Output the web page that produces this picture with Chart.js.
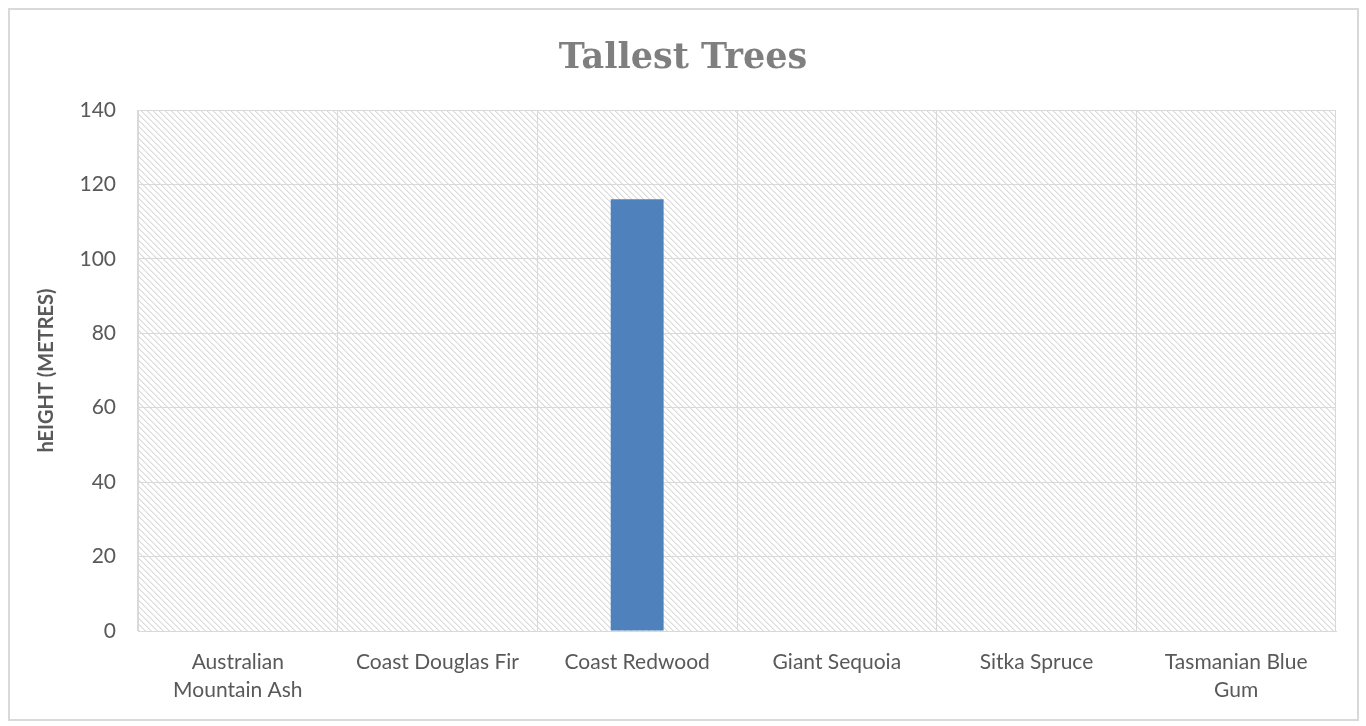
<!DOCTYPE html>
<html lang="en">

<head>
  <meta charset="UTF-8" />
  <title>Tallest Trees</title>
  <style>
    * {
      margin: 0;
      padding: 0;
    }

    body {
      width: 1366px;
      height: 726px;
      background: #ffffff;
      overflow: hidden;
    }

    .chartBox {
      position: absolute;
      left: 0;
      top: 0;
      width: 1366px;
      height: 726px;
    }

    .frame {
      position: absolute;
      left: 8px;
      top: 8px;
      width: 1347px;
      height: 709px;
      border: 2px solid #d9d9d9;
      pointer-events: none;
    }
  </style>
</head>

<body>
  <div class="chartBox">
    <canvas id="myChart"></canvas>
  </div>
  <div class="frame"></div>
  <script src="https://cdn.jsdelivr.net/npm/chart.js@4.4.1/dist/chart.umd.min.js"></script>
  <script>
    const categories = [
      ["Australian", "Mountain Ash"],
      "Coast Douglas Fir",
      "Coast Redwood",
      "Giant Sequoia",
      "Sitka Spruce",
      ["Tasmanian Blue", "Gum"],
    ];

    const heights = [null, null, 116, null, null, null];

    const yTicks = [0, 20, 40, 60, 80, 100, 120, 140];

    // light downward diagonal fill, like the Excel plot area
    function makeHatch() {
      const n = 6;
      const tile = document.createElement("canvas");
      tile.width = n;
      tile.height = n;
      const t = tile.getContext("2d");
      t.fillStyle = "#ffffff";
      t.fillRect(0, 0, n, n);
      for (let i = 0; i < n; i++) {
        t.fillStyle = "#dcdcdc";
        t.fillRect(i, i, 1, 1);
        t.fillStyle = "#ebebeb";
        t.fillRect((i + 1) % n, i, 1, 1);
      }
      return tile;
    }

    const hatchPlugin = {
      id: "hatch",
      beforeDraw(chart) {
        const { ctx, chartArea } = chart;
        ctx.save();
        ctx.fillStyle = ctx.createPattern(makeHatch(), "repeat");
        ctx.fillRect(chartArea.left, chartArea.top,
          chartArea.right - chartArea.left, chartArea.bottom - chartArea.top);
        ctx.restore();
      },
    };

    const data = {
      labels: categories,
      datasets: [
        {
          label: "Height",
          data: heights,
          backgroundColor: "#4f81bd",
          borderWidth: 0,
          barPercentage: 0.265,
          categoryPercentage: 1,
        },
      ],
    };

    const options = {
      responsive: false,
      animation: false,
      layout: {
        padding: { left: 30, right: 30, top: 0, bottom: 0 },
      },
      scales: {
        x: {
          grid: {
            color: "#d9d9d9",
            drawTicks: false,
            offset: true,
          },
          border: { color: "#d9d9d9" },
          ticks: {
            color: "#595959",
            padding: 17,
            maxRotation: 0,
            autoSkip: false,
            font: { family: "Lato", size: 21, lineHeight: 1.33 },
          },
          afterFit(scale) {
            scale.height = 95;
          },
        },
        y: {
          min: 0,
          max: 140,
          afterBuildTicks(scale) {
            scale.ticks = yTicks.map((v) => ({ value: v }));
          },
          grid: {
            color: "#d9d9d9",
            drawTicks: false,
          },
          border: { color: "#d9d9d9" },
          ticks: {
            color: "#595959",
            padding: 22,
            font: { family: "Lato", size: 21 },
          },
          title: {
            display: true,
            text: "hEIGHT (METRES)",
            color: "#595959",
            padding: { top: 5, bottom: 0 },
            font: { family: "Lato", size: 20, weight: "bold" },
          },
          afterFit(scale) {
            scale.width = 108;
          },
        },
      },
      plugins: {
        legend: { display: false },
        tooltip: { enabled: false },
        title: {
          display: true,
          text: "Tallest Trees",
          color: "#7f7f7f",
          padding: { top: 34, bottom: 27 },
          font: { family: "DejaVu Serif", size: 35, weight: "bold", lineHeight: 1.4 },
        },
      },
    };

    const canvas = document.getElementById("myChart");
    canvas.width = 1366;
    canvas.height = 726;
    canvas.style.width = "1366px";
    canvas.style.height = "726px";

    const myChart = new Chart(canvas.getContext("2d"), {
      type: "bar",
      data: data,
      options: options,
      plugins: [hatchPlugin],
    });
  </script>
</body>

</html>
